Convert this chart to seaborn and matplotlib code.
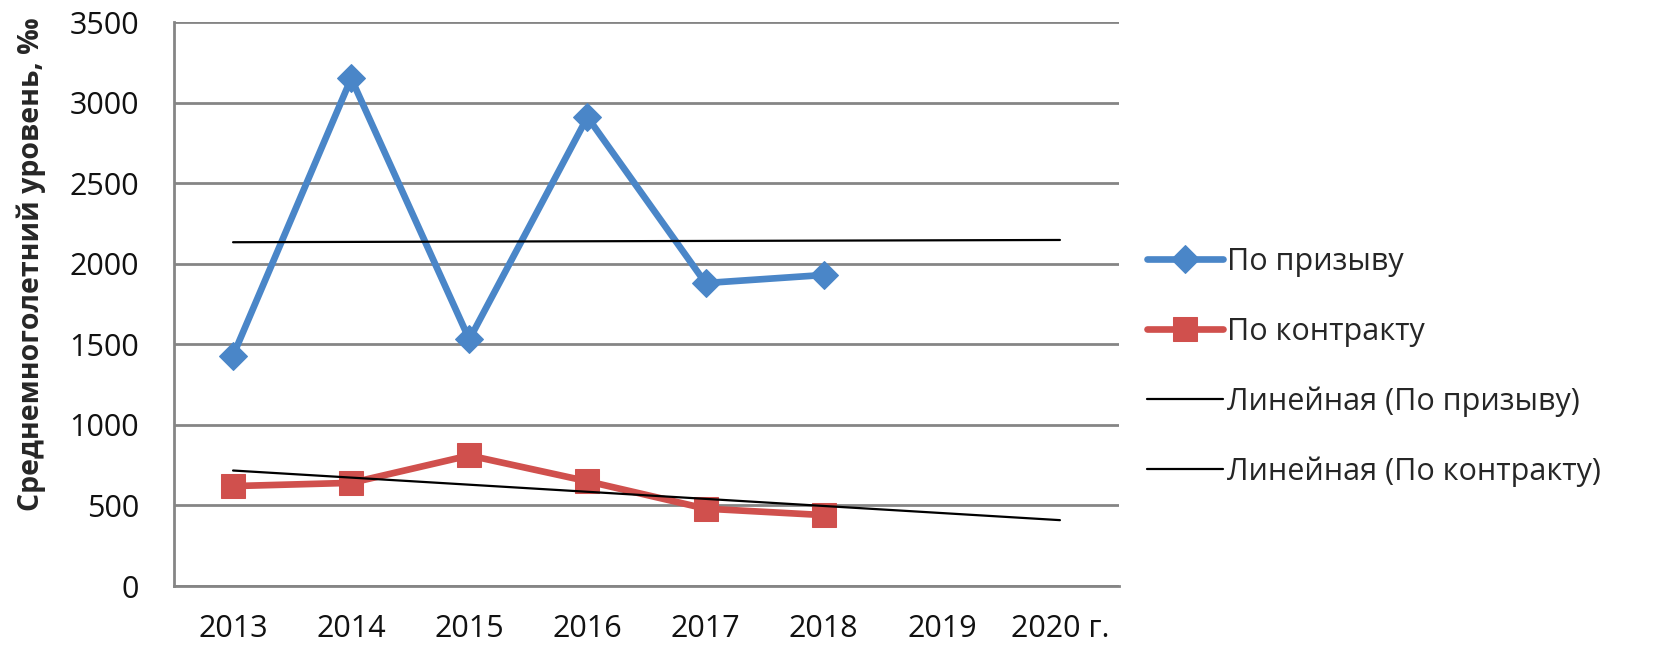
import numpy as np
import pandas as pd
import matplotlib
matplotlib.use("Agg")
import matplotlib.pyplot as plt
import seaborn as sns

years = ["2013", "2014", "2015", "2016", "2017", "2018", "2019", "2020 г."]
draft = [1430, 3150, 1530, 2910, 1880, 1930]
contract = [620, 640, 810, 650, 480, 440]
series_names = ["По призыву", "По контракту"]
trend_names = ["Линейная (По призыву)", "Линейная (По контракту)"]

BLUE = "#4a86c8"
RED = "#d0504d"
GRID = "#858585"

sns.set_theme(style="white")
plt.rcParams["font.family"] = ["Open Sans", "DejaVu Sans"]

fig = plt.figure(figsize=(16.55, 6.57), dpi=100)
ax = fig.add_axes([174 / 1655, 1 - 586 / 657, (1119 - 174) / 1655, (586 - 22) / 657])

pos = np.arange(len(years)) + 0.5
n = len(draft)
df = pd.DataFrame({
    "x": np.concatenate([pos[:n], pos[:n]]),
    "value": draft + contract,
    "series": [series_names[0]] * n + [series_names[1]] * n,
})

sns.lineplot(data=df[df.series == series_names[0]], x="x", y="value", ax=ax,
             color=BLUE, lw=4.8, marker="D", markersize=14, markeredgecolor=BLUE,
             label=series_names[0], zorder=4)
sns.lineplot(data=df[df.series == series_names[1]], x="x", y="value", ax=ax,
             color=RED, lw=4.8, marker="s", markersize=17, markeredgecolor=RED,
             label=series_names[1], zorder=4)

# linear trends over the observed years, extended to the last category
for vals, name in zip([draft, contract], trend_names):
    k, b = np.polyfit(np.arange(n), vals, 1)
    xs = np.arange(len(years))
    ax.plot(pos, k * xs + b, color="black", lw=1.6, label=name, zorder=5)

ax.set_xlim(0, len(years))
ax.set_ylim(0, 3500)
ax.set_yticks(np.arange(0, 3501, 500))
ax.set_xticks(pos)
ax.set_xticklabels(years)
ax.set_xticks(np.arange(len(years)), minor=True)
ax.yaxis.grid(True, color=GRID, lw=2)
ax.set_axisbelow(True)
for s in ["top", "right"]:
    ax.spines[s].set_visible(False)
for s in ["left", "bottom"]:
    ax.spines[s].set_color(GRID)
    ax.spines[s].set_linewidth(2)
ax.tick_params(axis="x", which="major", length=0, labelsize=22, pad=20, colors="#111111")
ax.tick_params(axis="x", which="minor", length=7, width=2, color=GRID, direction="out")
ax.tick_params(axis="y", which="major", length=0, labelsize=22, pad=25, colors="#111111")
ax.set_xlabel("")
ax.set_ylabel("Среднемноголетний уровень, ‰", fontsize=20.5, fontweight="bold")
ax.yaxis.set_label_coords(-0.135, 0.57)

handles, labels = ax.get_legend_handles_labels()
ax.legend(handles, labels, loc="center left", bbox_to_anchor=(1147 / 1655, 1 - 367 / 657),
          bbox_transform=fig.transFigure, frameon=False, fontsize=22,
          borderpad=0, borderaxespad=0,
          handlelength=2.5, handletextpad=0.12, labelspacing=1.3)

fig.savefig("out.png", dpi=100)
